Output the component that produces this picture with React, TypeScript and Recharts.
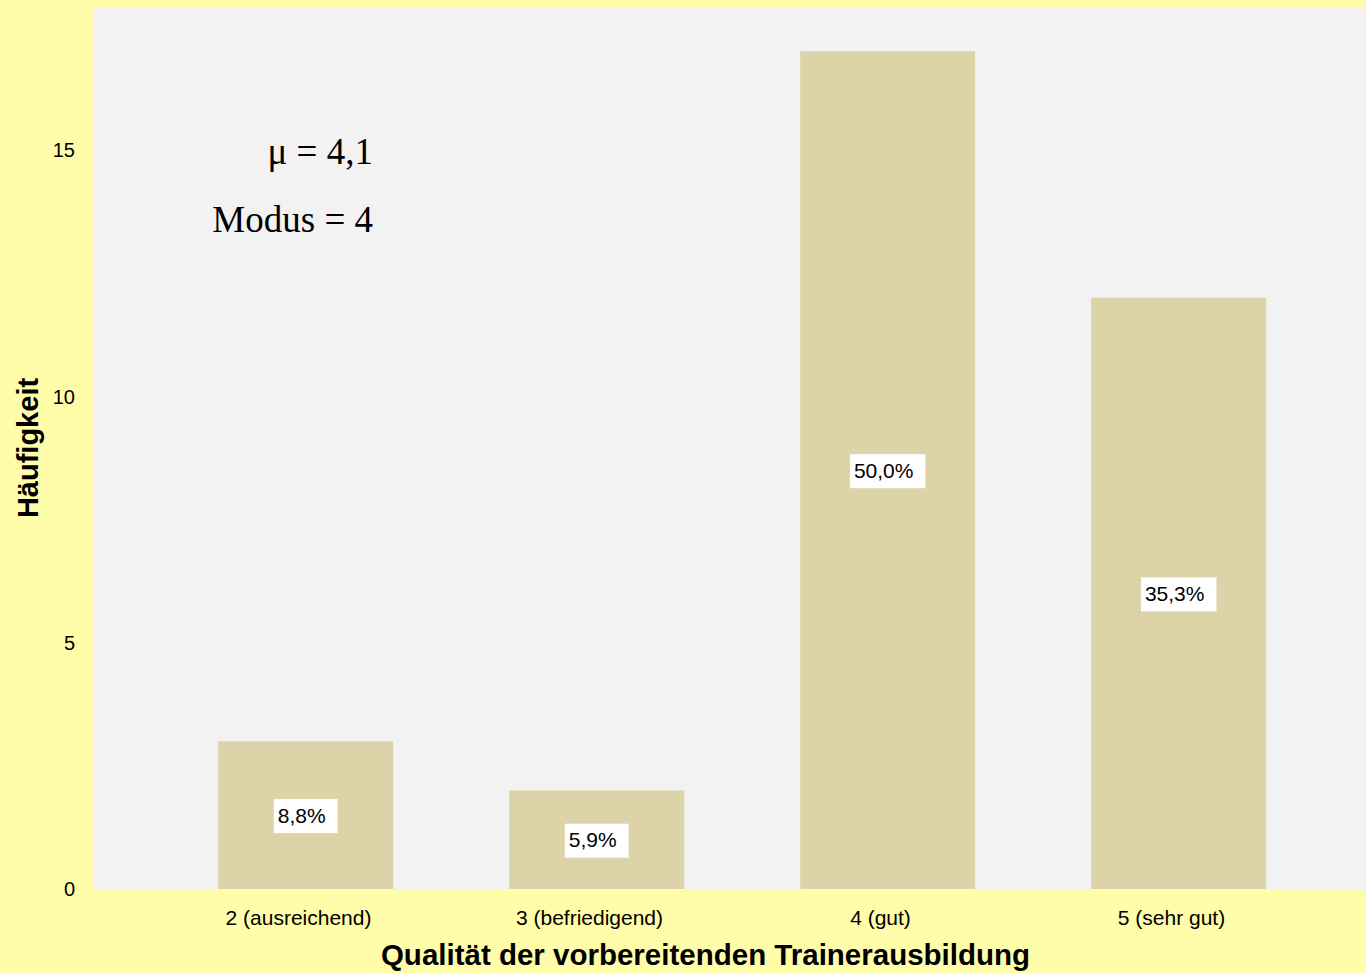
import { Bar, BarChart, CartesianGrid, LabelList, XAxis, YAxis } from "recharts";

const categories = ["2 (ausreichend)", "3 (befriedigend)", "4 (gut)", "5 (sehr gut)"];
const counts = [3, 2, 17, 12];
const pctLabels = ["8,8%", "5,9%", "50,0%", "35,3%"];
const yTicks = [0, 5, 10, 15];

const data = categories.map((name, i) => ({ name, count: counts[i], pct: pctLabels[i] }));

const font = "Liberation Sans, Arial, sans-serif";
const widths: Record<string, number> = { ",": 0.278, "%": 0.889 };
const textWidth = (s: string, size: number) =>
  s.split("").reduce((w, c) => w + (widths[c] ?? 0.556), 0) * size;

const PctLabel = ({ x, y, width, height, value }: any) => {
  const cx = x + width / 2;
  const cy = y + height / 2;
  const w = textWidth(String(value), 21) + 16;
  return (
    <g>
      <rect x={cx - w / 2} y={cy - 16} width={w} height={34} fill="#fff" />
      <text x={cx - w / 2 + 4} y={cy + 2} dominantBaseline="middle" fontSize={21} fontFamily={font} fill="#000">
        {value}
      </text>
    </g>
  );
};

const XTick = ({ x, y, payload }: any) => (
  <text x={x - 7} y={y + 10} textAnchor="middle" dominantBaseline="middle" fontSize={21} fontFamily={font} fill="#000">
    {payload.value}
  </text>
);

const YTick = ({ x, y, payload }: any) => (
  <text x={x} y={y + 2} textAnchor="end" dominantBaseline="middle" fontSize={20} fontFamily={font} fill="#000">
    {payload.value}
  </text>
);

const XTitle = ({ viewBox }: any) => (
  <text
    x={viewBox.x + viewBox.width / 2 - 24}
    y={965}
    textAnchor="middle"
    fontSize={29.5}
    fontWeight={700}
    fontFamily={font}
    fill="#000"
  >
    Qualität der vorbereitenden Trainerausbildung
  </text>
);

const YTitle = ({ viewBox }: any) => {
  const cy = viewBox.y + viewBox.height / 2;
  return (
    <text
      x={30}
      y={cy}
      transform={`rotate(-90, 30, ${cy})`}
      textAnchor="middle"
      dominantBaseline="middle"
      fontSize={29}
      fontWeight={700}
      fontFamily={font}
      fill="#000"
    >
      Häufigkeit
    </text>
  );
};

export default function App() {
  return (
    <div style={{ position: "absolute", left: 0, top: 0, width: 1366, height: 973, background: "#FFFCAA" }}>
      <BarChart
        width={1366}
        height={973}
        data={data}
        margin={{ top: 7, right: 0, bottom: 0, left: 0 }}
        barCategoryGap="20%"
      >
        <CartesianGrid fill="#F2F2F2" stroke="none" horizontal={false} vertical={false} />
        <XAxis
          dataKey="name"
          height={84}
          axisLine={false}
          tickLine={false}
          tickSize={0}
          tickMargin={20}
          padding={{ left: 67, right: 42 }}
          tick={<XTick />}
          label={<XTitle />}
        />
        <YAxis
          width={93}
          domain={[0, 17.9]}
          ticks={yTicks}
          axisLine={false}
          tickLine={false}
          tickSize={0}
          tickMargin={18}
          tick={<YTick />}
          label={<YTitle />}
        />
        <Bar dataKey="count" fill="#DCD4A8" isAnimationActive={false}>
          <LabelList dataKey="pct" content={<PctLabel />} />
        </Bar>
      </BarChart>
      <div
        style={{
          position: "absolute",
          right: 1366 - 373,
          top: 118,
          fontFamily: "Liberation Serif, Times New Roman, serif",
          fontSize: 37,
          lineHeight: "68px",
          textAlign: "right",
          whiteSpace: "nowrap",
        }}
      >
        <div>μ = 4,1</div>
        <div>Modus = 4</div>
      </div>
    </div>
  );
}
